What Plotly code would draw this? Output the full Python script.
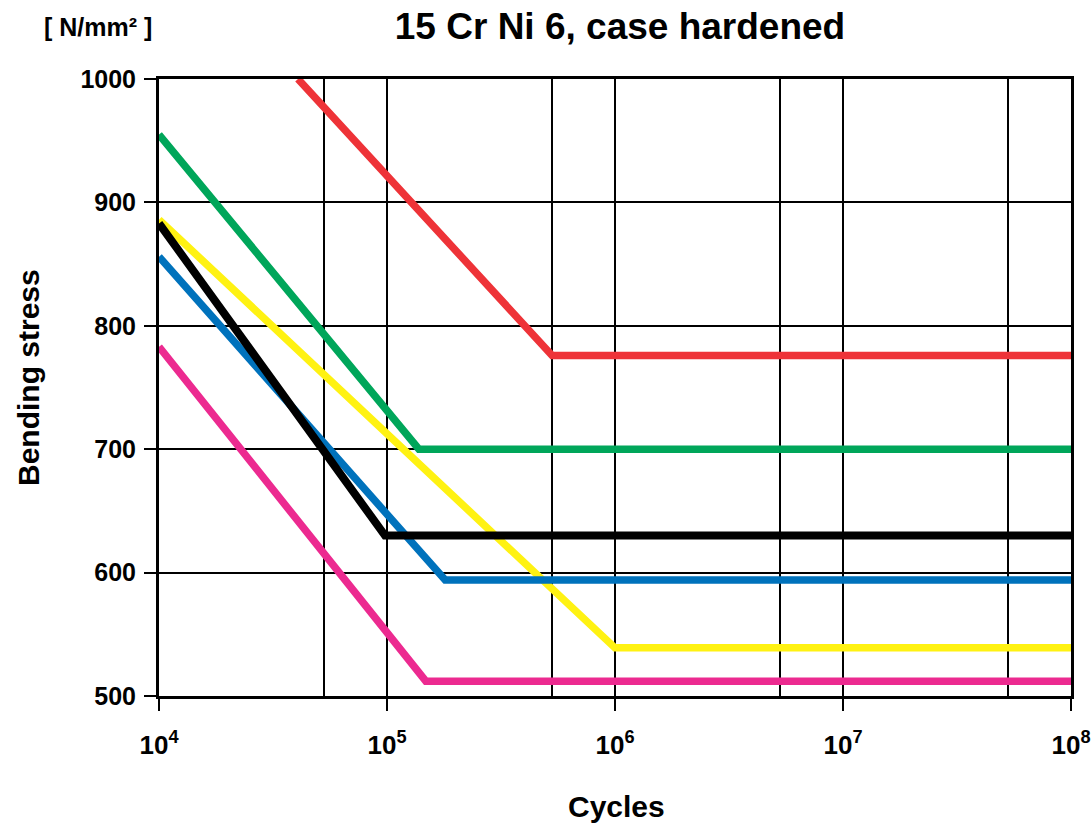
import plotly.graph_objects as go

# ---- data ----
red_x = [4.07e4, 5.3e5, 1e8]
red_y = [1000, 776, 776]
green_x = [1e4, 1.38e5, 1e8]
green_y = [955, 700, 700]
black_x = [1e4, 9.8e4, 1e8]
black_y = [883, 630, 630]
yellow_x = [1e4, 1e6, 1e8]
yellow_y = [886, 539, 539]
blue_x = [1e4, 1.8e5, 1e8]
blue_y = [856, 594, 594]
pink_x = [1e4, 1.48e5, 1e8]
pink_y = [783, 512, 512]

x_tickvals = [1e4, 1e5, 1e6, 1e7, 1e8]
x_ticktext = ["10<sup>4</sup>", "10<sup>5</sup>", "10<sup>6</sup>", "10<sup>7</sup>", "10<sup>8</sup>"]
x_minor_vals = [5.3e4, 5.3e5, 5.3e6, 5.3e7]
y_tickvals = [500, 600, 700, 800, 900, 1000]

FONT = "Liberation Sans, Arial, sans-serif"

series = [
    (pink_x, pink_y, "#EC2A90", 7.5),
    (yellow_x, yellow_y, "#FFF212", 7.5),
    (blue_x, blue_y, "#0072BC", 7.5),
    (black_x, black_y, "#000000", 8),
    (green_x, green_y, "#00A65A", 7.5),
    (red_x, red_y, "#EE3338", 7.5),
]

fig = go.Figure()
for xs, ys, col, w in series:
    fig.add_trace(go.Scatter(x=xs, y=ys, mode="lines",
                             line=dict(color=col, width=w),
                             showlegend=False, hoverinfo="skip"))

fig.update_layout(
    width=1091, height=826,
    margin=dict(l=159, r=20, t=79, b=130),
    paper_bgcolor="white", plot_bgcolor="white",
    font=dict(family=FONT, color="black", size=24, weight="bold"),
    title=dict(text="15 Cr Ni 6, case hardened", x=620 / 1091, xanchor="center",
               y=1 - 26 / 826, yanchor="middle", yref="container",
               font=dict(family=FONT, size=37, color="black", weight="bold")),
    xaxis=dict(type="log", range=[4, 8], automargin=False,
               tickmode="array", tickvals=x_tickvals, ticktext=x_ticktext,
               showgrid=True, gridcolor="black", gridwidth=1.5,
               showline=True, linecolor="black", linewidth=3, mirror=True,
               ticks="outside", ticklen=12, tickwidth=2, tickcolor="black",
               ticklabelstandoff=12,
               tickfont=dict(family=FONT, size=26, color="black", weight="bold"),
               minor=dict(tickmode="array", tickvals=x_minor_vals, showgrid=True,
                          gridcolor="black", gridwidth=1.5, ticks=""),
               zeroline=False),
    yaxis=dict(range=[500, 1000], tickmode="array", tickvals=y_tickvals,
               automargin=False,
               showgrid=True, gridcolor="black", gridwidth=1.5,
               showline=True, linecolor="black", linewidth=3, mirror=True,
               ticks="outside", ticklen=12, tickwidth=2, tickcolor="black",
               ticklabelstandoff=3,
               tickfont=dict(family=FONT, size=25, color="black", weight="bold"),
               zeroline=False),
    annotations=[
        dict(text="[ N/mm² ]", xref="paper", yref="paper",
             x=(98 - 159) / 912, y=1 + (79 - 27) / 617,
             xanchor="center", yanchor="middle", showarrow=False,
             font=dict(family=FONT, size=25, color="black", weight="bold")),
        dict(text="Bending stress", xref="paper", yref="paper",
             x=(28 - 159) / 912, y=(696 - 378) / 617, textangle=-90,
             xanchor="center", yanchor="middle", showarrow=False,
             font=dict(family=FONT, size=30, color="black", weight="bold")),
        dict(text="Cycles", xref="paper", yref="paper",
             x=(616 - 159) / 912, y=-(806 - 696) / 617,
             xanchor="center", yanchor="middle", showarrow=False,
             font=dict(family=FONT, size=30, color="black", weight="bold")),
    ],
)

fig.write_html("out.html")
